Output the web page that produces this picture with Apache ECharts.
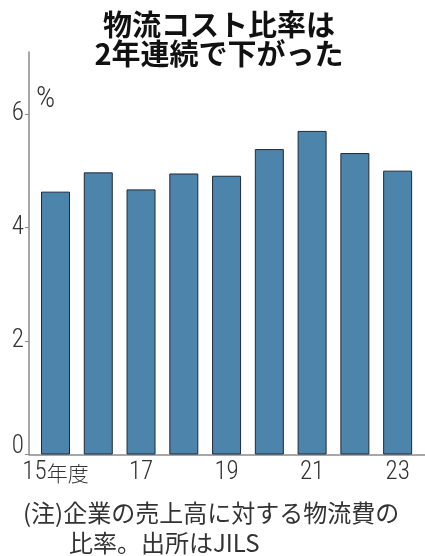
<!DOCTYPE html>
<html>
<head>
<meta charset="utf-8">
<script src="https://cdn.jsdelivr.net/npm/echarts@6/dist/echarts.min.js"></script>
<style>
  html, body { margin: 0; padding: 0; background: #fff; }
  #chart { width: 425px; height: 556px; }
</style>
</head>
<body>
<div id="chart"></div>
<script>
// Fiscal years (two-digit) and logistics-cost ratio to sales, %
const fiscalYears = [15, 16, 17, 18, 19, 20, 21, 22, 23];
const costRatio = [4.63, 4.97, 4.67, 4.95, 4.91, 5.38, 5.70, 5.31, 5.00];
const xTickYears = [15, 17, 19, 21, 23];
const yTickValues = [0, 2, 4, 6];

const titleLines = ['物流コスト比率は', '2年連続で下がった'];
const noteLines = ['(注)企業の売上高に対する物流費の', '比率。出所はJILS'];
const unitLabel = '%';

const NUM_FONT = "'Roboto Condensed', 'DejaVu Sans Condensed', sans-serif";
const JP_FONT = "'Noto Sans CJK JP', sans-serif";
const AXIS_COLOR = '#8a8a8a';
const TEXT_COLOR = '#333';

const chart = echarts.init(document.getElementById('chart'), null, { renderer: 'canvas' });

chart.setOption({
  animation: false,
  backgroundColor: '#fff',
  grid: { left: 29, right: 0, top: 52, bottom: 101.5 },
  xAxis: {
    type: 'value',
    min: 14.38,
    max: 23.64,
    splitLine: { show: false },
    axisLine: { show: true, lineStyle: { color: AXIS_COLOR, width: 1.5 } },
    axisTick: { show: false },
    axisLabel: {
      customValues: xTickYears,
      margin: 6,
      color: TEXT_COLOR,
      fontFamily: NUM_FONT,
      fontSize: 25,
      fontWeight: 300,
      formatter: v => v === fiscalYears[0] ? '{n|' + v + '}{k|年度}' : '{n|' + v + '}',
      rich: {
        n: { fontFamily: NUM_FONT, fontSize: 25, fontWeight: 300, color: TEXT_COLOR },
        k: { fontFamily: JP_FONT, fontSize: 21, color: TEXT_COLOR }
      }
    }
  },
  yAxis: {
    type: 'value',
    min: 0,
    max: 7.09,
    splitLine: { show: false },
    axisLine: { show: true, lineStyle: { color: AXIS_COLOR, width: 1.5 } },
    axisTick: { show: true, customValues: yTickValues, length: 4, lineStyle: { color: AXIS_COLOR } },
    axisLabel: {
      customValues: yTickValues,
      margin: 5,
      color: TEXT_COLOR,
      fontFamily: NUM_FONT,
      fontSize: 25,
      fontWeight: 300,
      formatter: v => v === 0 ? '{z|0}' : String(v),
      rich: {
        z: { fontFamily: NUM_FONT, fontSize: 25, fontWeight: 300, color: TEXT_COLOR, padding: [0, 0, 16, 0] }
      }
    }
  },
  series: [{
    type: 'bar',
    barWidth: 29,
    data: fiscalYears.map((y, i) => [y, costRatio[i]]),
    itemStyle: { color: '#4d84ac', borderColor: '#1f2b36', borderWidth: 1 }
  }],
  graphic: [
    {
      type: 'text', x: 219, y: 24.5,
      style: { text: titleLines[0], textAlign: 'center', textVerticalAlign: 'middle',
        font: "bold 29px " + JP_FONT, fill: '#111' }
    },
    {
      type: 'text', x: 219, y: 53.5,
      style: { text: titleLines[1], textAlign: 'center', textVerticalAlign: 'middle',
        font: "bold 29px " + JP_FONT, fill: '#111' }
    },
    {
      type: 'text', x: 36, y: 99,
      style: { text: unitLabel, textAlign: 'left', textVerticalAlign: 'middle',
        font: "300 30px " + NUM_FONT, fill: TEXT_COLOR }
    },
    {
      type: 'text', x: 23, y: 513,
      style: { text: noteLines[0], textAlign: 'left', textVerticalAlign: 'middle',
        font: "24px " + JP_FONT, fill: TEXT_COLOR }
    },
    {
      type: 'text', x: 69, y: 543,
      style: { text: noteLines[1], textAlign: 'left', textVerticalAlign: 'middle',
        font: "24px " + JP_FONT, fill: TEXT_COLOR }
    }
  ]
});
</script>
</body>
</html>
